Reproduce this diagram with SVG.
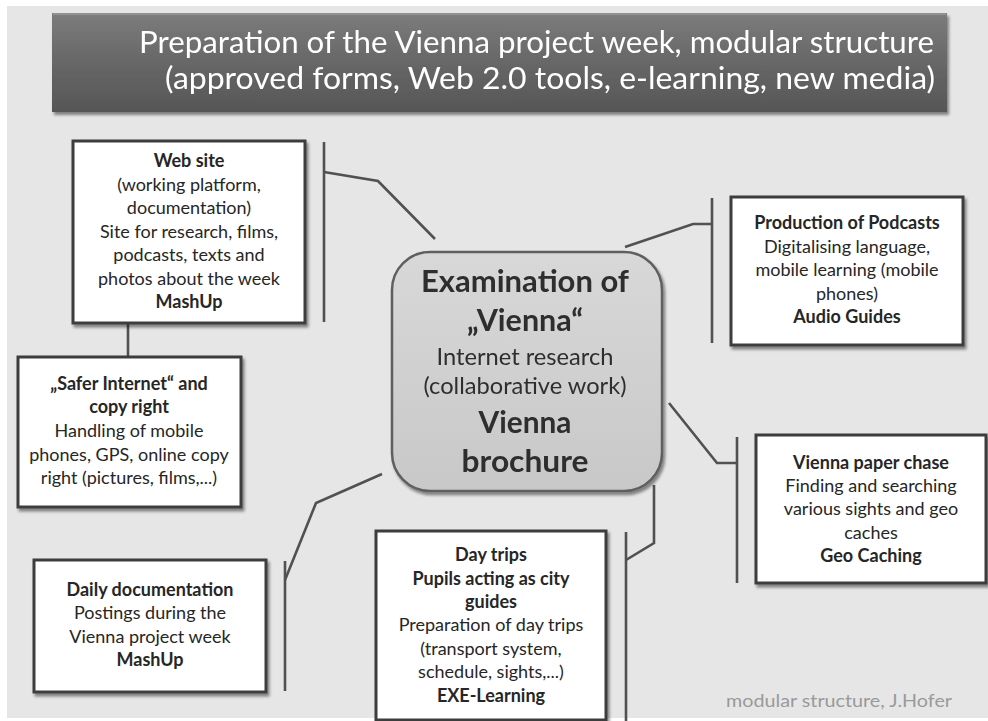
<svg xmlns="http://www.w3.org/2000/svg" width="988" height="721" viewBox="0 0 988 721">
<defs>
<linearGradient id="gTitle" x1="0" y1="0" x2="0" y2="1">
<stop offset="0" stop-color="#7c7c7c"/>
<stop offset="0.5" stop-color="#676767"/>
<stop offset="1" stop-color="#565656"/>
</linearGradient>
<linearGradient id="gCenter" x1="0" y1="0" x2="0" y2="1">
<stop offset="0" stop-color="#d8d8d8"/>
<stop offset="1" stop-color="#c8c8c8"/>
</linearGradient>
<filter id="sh" x="-10%" y="-10%" width="130%" height="130%">
<feGaussianBlur in="SourceAlpha" stdDeviation="1.5"/>
<feOffset dx="1.5" dy="2.5" result="b"/>
<feComponentTransfer><feFuncA type="linear" slope="0.45"/></feComponentTransfer>
<feMerge><feMergeNode/><feMergeNode in="SourceGraphic"/></feMerge>
</filter>
</defs>
<style>
.box{fill:#ffffff;stroke:#3d3d3d;stroke-width:3}
.t{font-family:Lato,"Open Sans","Liberation Sans",sans-serif;font-size:18px;fill:#262626;text-anchor:middle}
.b{font-weight:bold}
.c{font-family:Lato,"Open Sans","Liberation Sans",sans-serif;fill:#2e2e2e;text-anchor:middle}
.ln{fill:none;stroke:#515151;stroke-width:2.6;stroke-linejoin:miter}
</style>
<rect x="0" y="0" width="988" height="721" fill="#ffffff"/>
<rect x="7" y="6" width="981" height="712" fill="#e6e6e6"/>

<g id="title" filter="url(#sh)">
<rect x="52" y="13" width="895" height="99" fill="url(#gTitle)"/>
<line x1="53" y1="14" x2="946" y2="14" stroke="#9a9a9a" stroke-width="1.5"/>
<text x="934" y="53" font-family="Lato,'Open Sans','Liberation Sans',sans-serif" font-size="30" fill="#ffffff" text-anchor="end" textLength="795" lengthAdjust="spacingAndGlyphs">Preparation of the Vienna project week, modular structure</text>
<text x="935" y="89" font-family="Lato,'Open Sans','Liberation Sans',sans-serif" font-size="30" fill="#ffffff" text-anchor="end" textLength="770" lengthAdjust="spacingAndGlyphs">(approved forms, Web 2.0 tools, e-learning, new media)</text>
</g>

<g id="connectors">
<polyline class="ln" points="324,142 324,322"/>
<polyline class="ln" points="324,172 378,181 435,239"/>
<polyline class="ln" points="128,323 128,357"/>
<polyline class="ln" points="382,474 316,503 285,580"/>
<polyline class="ln" points="285,561 285,691"/>
<polyline class="ln" points="654,485 654,543 626,560"/>
<polyline class="ln" points="626,532 626,721"/>
<polyline class="ln" points="669,403 717,463 737,463"/>
<polyline class="ln" points="737,437 737,583"/>
<polyline class="ln" points="625,247 693,224 712,224"/>
<polyline class="ln" points="712,198 712,343"/>
</g>

<g id="center" filter="url(#sh)">
<rect x="392" y="252" width="270" height="239" rx="38" ry="38" fill="url(#gCenter)" stroke="#5f5f5f" stroke-width="2.5"/>
<text class="c" x="525" y="292" font-size="30" font-weight="bold" textLength="208" lengthAdjust="spacingAndGlyphs">Examination of</text>
<text class="c" x="525" y="331" font-size="30" font-weight="bold" textLength="116" lengthAdjust="spacingAndGlyphs">„Vienna“</text>
<text class="c" x="525" y="365" font-size="23" fill="#222" textLength="177" lengthAdjust="spacingAndGlyphs">Internet research</text>
<text class="c" x="525" y="394" font-size="23" fill="#222" textLength="203" lengthAdjust="spacingAndGlyphs">(collaborative work)</text>
<text class="c" x="525" y="433" font-size="30" font-weight="bold" textLength="93" lengthAdjust="spacingAndGlyphs">Vienna</text>
<text class="c" x="525" y="472" font-size="30" font-weight="bold" textLength="127" lengthAdjust="spacingAndGlyphs">brochure</text>
</g>

<g id="website">
<rect class="box" x="73" y="141" width="232" height="182" filter="url(#sh)"/>
<text class="t b" x="189" y="167">Web site</text>
<text class="t" x="189" y="191">(working platform,</text>
<text class="t" x="189" y="214">documentation)</text>
<text class="t" x="189" y="238">Site for research, films,</text>
<text class="t" x="189" y="261">podcasts, texts and</text>
<text class="t" x="189" y="285">photos about the week</text>
<text class="t b" x="189" y="308">MashUp</text>
</g>

<g id="safer">
<rect class="box" x="18" y="357" width="223" height="150" filter="url(#sh)"/>
<text class="t b" x="129" y="390">„Safer Internet“ and</text>
<text class="t b" x="129" y="413">copy right</text>
<text class="t" x="129" y="437">Handling of mobile</text>
<text class="t" x="129" y="461">phones, GPS, online copy</text>
<text class="t" x="129" y="484">right (pictures, films,...)</text>
</g>

<g id="podcasts">
<rect class="box" x="731" y="197" width="232" height="148" filter="url(#sh)"/>
<text class="t b" x="847" y="229">Production of Podcasts</text>
<text class="t" x="847" y="253">Digitalising language,</text>
<text class="t" x="847" y="276">mobile learning (mobile</text>
<text class="t" x="847" y="300">phones)</text>
<text class="t b" x="847" y="323">Audio Guides</text>
</g>

<g id="paperchase">
<rect class="box" x="756" y="435" width="230" height="148" filter="url(#sh)"/>
<text class="t b" x="871" y="469">Vienna paper chase</text>
<text class="t" x="871" y="492">Finding and searching</text>
<text class="t" x="871" y="515">various sights and geo</text>
<text class="t" x="871" y="539">caches</text>
<text class="t b" x="871" y="562">Geo Caching</text>
</g>

<g id="daily">
<rect class="box" x="34" y="560" width="232" height="132" filter="url(#sh)"/>
<text class="t b" x="150" y="596">Daily documentation</text>
<text class="t" x="150" y="619">Postings during the</text>
<text class="t" x="150" y="643">Vienna project week</text>
<text class="t b" x="150" y="666">MashUp</text>
</g>

<g id="daytrips">
<rect class="box" x="376" y="531" width="230" height="189" filter="url(#sh)"/>
<text class="t b" x="491" y="561">Day trips</text>
<text class="t b" x="491" y="585">Pupils acting as city</text>
<text class="t b" x="491" y="608">guides</text>
<text class="t" x="491" y="631">Preparation of day trips</text>
<text class="t" x="491" y="655">(transport system,</text>
<text class="t" x="491" y="678">schedule, sights,...)</text>
<text class="t b" x="491" y="702">EXE-Learning</text>
</g>

<text x="952" y="707" font-family="Lato,'Open Sans','Liberation Sans',sans-serif" font-size="18" fill="#9a9a9a" text-anchor="end" textLength="226" lengthAdjust="spacingAndGlyphs">modular structure, J.Hofer</text>
</svg>
